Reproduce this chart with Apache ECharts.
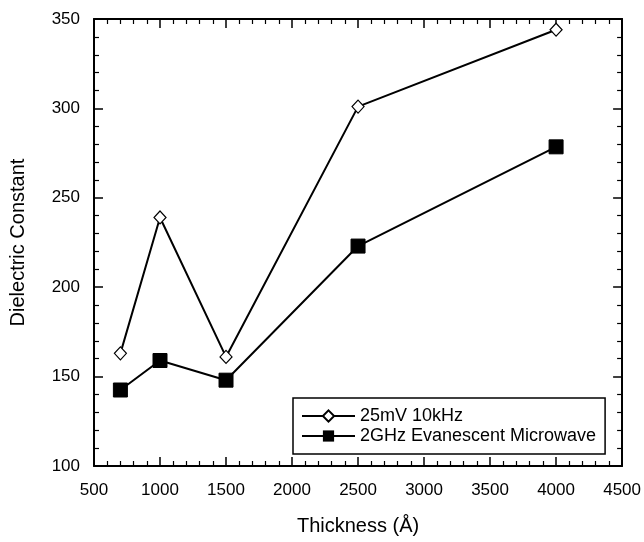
<!DOCTYPE html>
<html><head><meta charset="utf-8">
<script src="https://cdn.jsdelivr.net/npm/echarts@6/dist/echarts.min.js"></script>
<style>html,body{margin:0;padding:0;background:#fff}#c{width:644px;height:542px}</style>
</head><body><div id="c"></div>
<script>
const thickness = [700, 1000, 1500, 2500, 4000];
const lowFreq = [163, 239, 161, 301, 344];
const microwave = [142.5, 159, 148, 223, 278.5];
const seriesNames = ['25mV 10kHz', '2GHz Evanescent Microwave'];
const xTitle = 'Thickness (Å)';
const yTitle = 'Dielectric Constant';

const font = 'Arial, "Liberation Sans", sans-serif';
const axisCommon = {
  axisLine: {lineStyle: {color: '#000', width: 2}},
  axisTick: {inside: true, length: 9, lineStyle: {color: '#000', width: 1.5}},
  minorTick: {show: true, splitNumber: 5, length: 5, lineStyle: {color: '#000', width: 1.2}},
  splitLine: {show: false}
};
const chart = echarts.init(document.getElementById('c'));
chart.setOption({
  animation: false,
  backgroundColor: '#fff',
  grid: {left: 92, right: 20, top: 19, bottom: 76},
  legend: {
    left: 293, top: 398,
    orient: 'vertical', itemGap: 2, padding: [9, 9, 9, 8],
    borderColor: '#000', borderWidth: 1.5, backgroundColor: '#fff',
    itemWidth: 53, itemHeight: 14,
    textStyle: {fontFamily: font, fontSize: 18, color: '#000'},
    data: seriesNames
  },
  xAxis: [
    Object.assign({type: 'value', min: 500, max: 4500, interval: 500,
      name: xTitle, nameLocation: 'middle', nameGap: 50,
      nameTextStyle: {fontFamily: font, fontSize: 20, color: '#000'},
      axisLabel: {fontFamily: font, fontSize: 17, color: '#000', margin: 16,
        formatter: v => String(v)}}, axisCommon),
    Object.assign({type: 'value', position: 'top', min: 500, max: 4500, interval: 500,
      axisLabel: {show: false}}, axisCommon)
  ],
  yAxis: [
    Object.assign({type: 'value', min: 100, max: 350, interval: 50,
      name: yTitle, nameLocation: 'middle', nameGap: 66,
      nameTextStyle: {fontFamily: font, fontSize: 20, color: '#000'},
      axisLabel: {fontFamily: font, fontSize: 17, color: '#000', margin: 14}}, axisCommon),
    Object.assign({type: 'value', position: 'right', min: 100, max: 350, interval: 50,
      axisLabel: {show: false}}, axisCommon)
  ],
  series: [
    {name: seriesNames[0], type: 'line', data: thickness.map((x, i) => [x, lowFreq[i]]),
      symbol: 'diamond', symbolSize: [12, 13],
      itemStyle: {color: '#fff', borderColor: '#000', borderWidth: 1.2},
      lineStyle: {color: '#000', width: 2}},
    {name: seriesNames[1], type: 'line', data: thickness.map((x, i) => [x, microwave[i]]),
      symbol: 'rect', symbolSize: 14,
      itemStyle: {color: '#000', borderColor: '#000'},
      lineStyle: {color: '#000', width: 2}}
  ]
});
</script></body></html>
